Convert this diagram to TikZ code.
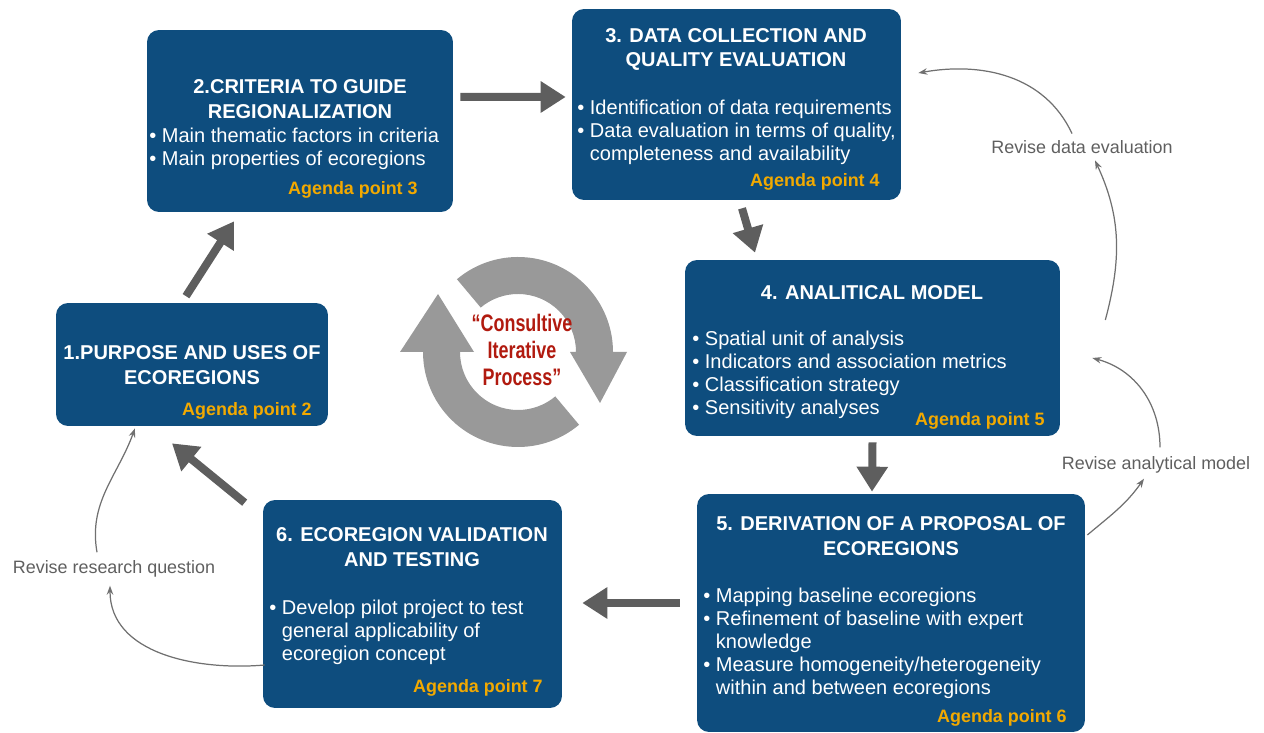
\documentclass[tikz,border=0pt]{standalone}
\usepackage{fontspec}
\setmainfont{Liberation Sans}
\usetikzlibrary{arrows.meta}
\definecolor{boxblue}{HTML}{0E4D7E}
\definecolor{agendaorange}{HTML}{F2A900}
\definecolor{arrowgray}{HTML}{5E5E5E}
\definecolor{thingray}{HTML}{707070}
\definecolor{cyclegray}{HTML}{999999}
\definecolor{cyclered}{HTML}{B11A0F}
\newcommand\bul{\textbullet~}
\begin{document}
\begin{tikzpicture}[x=0.02cm, y=0.02cm,
    stagebox/.style={fill=boxblue, rectangle, rounded corners=0.24cm},
    stagetitle/.style={text=white, font=\fontsize{11.4}{14.2}\selectfont\bfseries, align=center, inner sep=0pt},
    stagelist/.style={text=white, font=\fontsize{11.4}{13}\selectfont, align=left, inner sep=0pt, anchor=west},
    agenda/.style={text=agendaorange, font=\fontsize{10.2}{12}\selectfont\bfseries, inner sep=0pt, anchor=east},
    bigarrow/.style={draw=arrowgray, line width=0.16cm, -{Triangle[width=0.6cm, length=0.5cm]}},
    revise/.style={text=thingray!85!black, font=\fontsize{10.2}{12}\selectfont, inner sep=2pt},
    revarrow/.style={draw=thingray, line width=0.7pt, -{Stealth[length=0.18cm, width=0.13cm]}}
]
    \useasboundingbox (0,0) rectangle (1264,733);

    \node[stagebox, name=purpose, minimum width=5.44cm, minimum height=2.46cm] at (192,368.5) {};
    \node[stagebox, name=criteria, minimum width=6.12cm, minimum height=3.64cm] at (300,612) {};
    \node[stagebox, name=data, minimum width=6.58cm, minimum height=3.82cm] at (736.5,628.5) {};
    \node[stagebox, name=model, minimum width=7.5cm, minimum height=3.52cm] at (872.5,385) {};
    \node[stagebox, name=proposal, minimum width=7.76cm, minimum height=4.76cm] at (891,120) {};
    \node[stagebox, name=validation, minimum width=5.98cm, minimum height=4.16cm] at (412.5,129) {};

    \node[stagetitle, name=purposetitle] at (192,367.5) {1.PURPOSE AND USES OF\\ECOREGIONS};
    \node[agenda, name=purposeagenda] at (312,322) {Agenda point 2};

    \node[stagetitle, name=criteriatitle] at (300,633.5) {2.CRITERIA TO GUIDE\\REGIONALIZATION};
    \node[stagelist, name=criterialist] at (149,584.5) {\bul Main thematic factors in criteria\\\bul Main properties of ecoregions};
    \node[agenda, name=criteriaagenda] at (418,543) {Agenda point 3};

    \node[stagetitle, name=datatitle] at (736,683.5) {3. DATA COLLECTION AND\\QUALITY EVALUATION};
    \node[stagelist, name=datalist] at (577,600.5) {\bul Identification of data requirements\\\bul Data evaluation in terms of quality,\\\phantom{\bul}completeness and availability};
    \node[agenda, name=dataagenda] at (880,551) {Agenda point 4};

    \node[stagetitle, name=modeltitle] at (872,440) {4. ANALITICAL MODEL};
    \node[stagelist, name=modellist] at (692,358) {\bul Spatial unit of analysis\\\bul Indicators and association metrics\\\bul Classification strategy\\\bul Sensitivity analyses};
    \node[agenda, name=modelagenda] at (1045,312) {Agenda point 5};

    \node[stagetitle, name=proposaltitle] at (891,196.5) {5. DERIVATION OF A PROPOSAL OF\\ECOREGIONS};
    \node[stagelist, name=proposallist] at (703,89.5) {\bul Mapping baseline ecoregions\\\bul Refinement of baseline with expert\\\phantom{\bul}knowledge\\\bul Measure homogeneity/heterogeneity\\\phantom{\bul}within and between ecoregions};
    \node[agenda, name=proposalagenda] at (1067,15) {Agenda point 6};

    \node[stagetitle, name=validationtitle] at (412,185.5) {6. ECOREGION VALIDATION\\AND TESTING};
    \node[stagelist, name=validationlist] at (269,100.5) {\bul Develop pilot project to test\\\phantom{\bul}general applicability of\\\phantom{\bul}ecoregion concept};
    \node[agenda, name=validationagenda] at (543,45) {Agenda point 7};

    \draw[bigarrow] ([shift={(7,24)}]criteria.east) -- ([shift={(-6,7.5)}]data.west);
    \draw[bigarrow] ([shift={(5.5,-8)}]data.south) -- ([shift={(-117.5,7)}]model.north);
    \draw[bigarrow] ([shift={(0,-6)}]model.south) -- ([shift={(-19,2)}]proposal.north);
    \draw[bigarrow] ([shift={(-17,10)}]proposal.west) -- ([shift={(20,1)}]validation.east);
    \draw[bigarrow] ([shift={(-18,-3)}]validation.north west) -- ([shift={(-20,-17)}]purpose.south);
    \draw[bigarrow] ([shift={(-6,6.5)}]purpose.north) -- ([shift={(-66,-9)}]criteria.south);

    \node[revise, name=revdata] at (1082,586) {Revise data evaluation};
    \node[revise, name=revmodel] at (1156,268) {Revise analytical model};
    \node[revise, name=revquestion] at (114,164) {Revise research question};

    \draw[revarrow] ([shift={(-10,3)}]revdata.north) to[out=115, in=10] ([shift={(17,31.5)}]data.east);
    \draw[revarrow] ([shift={(45,28)}]model.east) to[out=75, in=-65] ([shift={(13,-3)}]revdata.south);
    \draw[revarrow] ([shift={(4,5.5)}]revmodel.north) to[out=90, in=-15] ([shift={(32,-10)}]model.east);
    \draw[revarrow] ([shift={(2,78)}]proposal.east) to[out=40, in=-125] ([shift={(-12,-1.5)}]revmodel.south);
    \draw[revarrow] ([shift={(-17,4.5)}]revquestion.north) to[out=100, in=-110] ([shift={(-57,-2)}]purpose.south);
    \draw[revarrow] ([shift={(2,-61)}]validation.west) to[out=185, in=-90] ([shift={(-4,-4.5)}]revquestion.south);

    \begin{scope}[shift={(518,381)}]
        \fill[cyclegray] (130:95) arc[start angle=130, end angle=0, radius=95] -- (109,0) -- (82,-51) -- (52,0) -- (58,0) arc[start angle=0, end angle=130, radius=58] -- cycle;
        \fill[cyclegray] (-50:95) arc[start angle=-50, end angle=-180, radius=95] -- (-118,0) -- (-80,58) -- (-44,0) -- (-58,0) arc[start angle=180, end angle=310, radius=58] -- cycle;
    \end{scope}
    \node[name=cycletext, text=cyclered, font=\fontsize{13.6}{15.3}\selectfont\bfseries, align=center, inner sep=0pt] at (522,383) {\scalebox{0.75}[1]{“Consultive}\\\scalebox{0.75}[1]{Iterative}\\\scalebox{0.75}[1]{Process”}};
\end{tikzpicture}
\end{document}
